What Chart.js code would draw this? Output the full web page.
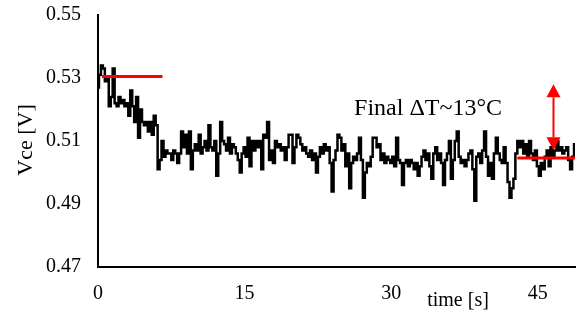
<!DOCTYPE html>
<html>
<head>
<meta charset="utf-8">
<script src="https://cdn.jsdelivr.net/npm/chart.js@4.4.1/dist/chart.umd.min.js"></script>
<style>
  html, body { margin: 0; padding: 0; background: #fff; }
  #wrap { width: 586px; height: 322px; }
</style>
</head>
<body>
<div id="wrap"><canvas id="myChart"></canvas></div>
<script>
// Vce trace, one reading every 0.2 s starting at t = 0
const sampleStep = 0.2;
const vce = [
  0.527, 0.531, 0.534, 0.533, 0.529,
  0.530, 0.521, 0.524, 0.533, 0.522,
  0.521, 0.524, 0.522, 0.523, 0.521,
  0.522, 0.518, 0.526, 0.521, 0.516,
  0.524, 0.511, 0.520, 0.516, 0.515,
  0.516, 0.513, 0.516, 0.512, 0.518,
  0.515, 0.501, 0.504, 0.510, 0.505,
  0.507, 0.506, 0.506, 0.504, 0.507,
  0.506, 0.503, 0.506, 0.513, 0.508,
  0.512, 0.506, 0.513, 0.501, 0.507,
  0.509, 0.507, 0.512, 0.506, 0.508,
  0.510, 0.507, 0.515, 0.508, 0.507,
  0.510, 0.499, 0.506, 0.516, 0.510,
  0.509, 0.507, 0.511, 0.506, 0.509,
  0.508, 0.506, 0.504, 0.500, 0.506,
  0.508, 0.505, 0.511, 0.502, 0.510,
  0.507, 0.510, 0.508, 0.510, 0.501,
  0.512, 0.511, 0.516, 0.504, 0.507,
  0.503, 0.510, 0.508, 0.509, 0.507,
  0.508, 0.504, 0.508, 0.512, 0.512,
  0.503, 0.508, 0.512, 0.511, 0.509,
  0.507, 0.508, 0.506, 0.505, 0.507,
  0.504, 0.506, 0.500, 0.505, 0.508,
  0.506, 0.509, 0.507, 0.508, 0.503,
  0.494, 0.504, 0.507, 0.512, 0.511,
  0.507, 0.509, 0.502, 0.506, 0.495,
  0.503, 0.505, 0.504, 0.506, 0.511,
  0.504, 0.492, 0.500, 0.503, 0.502,
  0.505, 0.511, 0.511, 0.508, 0.509,
  0.504, 0.506, 0.503, 0.505, 0.504,
  0.503, 0.505, 0.502, 0.511, 0.504,
  0.503, 0.496, 0.503, 0.504, 0.502,
  0.504, 0.503, 0.501, 0.503, 0.499,
  0.502, 0.505, 0.507, 0.504, 0.506,
  0.502, 0.498, 0.506, 0.508, 0.504,
  0.506, 0.503, 0.496, 0.504, 0.506,
  0.510, 0.498, 0.504, 0.510, 0.513,
  0.505, 0.503, 0.504, 0.502, 0.504,
  0.506, 0.507, 0.501, 0.491, 0.505,
  0.506, 0.503, 0.507, 0.513, 0.505,
  0.499, 0.503, 0.498, 0.506, 0.511,
  0.506, 0.504, 0.503, 0.508, 0.503,
  0.497, 0.492, 0.495, 0.498, 0.506,
  0.510, 0.508, 0.510, 0.506, 0.509,
  0.505, 0.510, 0.506, 0.504, 0.507,
  0.502, 0.499, 0.503, 0.501, 0.505,
  0.507, 0.502, 0.508, 0.505, 0.507,
  0.510, 0.507, 0.508, 0.506, 0.507,
  0.508, 0.504, 0.501, 0.505, 0.509
];

const xTicks = [0, 15, 30, 45];
const yTicks = [0.47, 0.49, 0.51, 0.53, 0.55];

// red reference levels: [from t, to t, level]
const startLevel = [0.4, 6.6, 0.5305];
const finalLevel = [42.9, 48.8, 0.5046];
// double arrow: [t, top, bottom]
const deltaArrow = [46.6, 0.528, 0.5071];
const noteText = "Final \u0394T~13\u00B0C";
const notePos = [26.2, 0.5183];

const points = vce.map((v, i) => ({ x: +(i * sampleStep).toFixed(1), y: v }));
const levelLine = (l) => [{ x: l[0], y: l[2] }, { x: l[1], y: l[2] }];

const font = "Liberation Serif, Times New Roman, serif";

const extras = {
  id: "extras",
  afterDatasetsDraw(chart) {
    const { ctx, scales } = chart;
    const x = scales.x, y = scales.y;
    ctx.save();
    // arrow
    const ax = x.getPixelForValue(deltaArrow[0]);
    const top = y.getPixelForValue(deltaArrow[1]);
    const bot = y.getPixelForValue(deltaArrow[2]);
    const head = 13, half = 7;
    ctx.strokeStyle = "#ff0000";
    ctx.fillStyle = "#ff0000";
    ctx.lineWidth = 2;
    ctx.beginPath();
    ctx.moveTo(ax, top + head);
    ctx.lineTo(ax, bot - head);
    ctx.stroke();
    ctx.beginPath();
    ctx.moveTo(ax, top);
    ctx.lineTo(ax - half, top + head);
    ctx.lineTo(ax + half, top + head);
    ctx.closePath();
    ctx.fill();
    ctx.beginPath();
    ctx.moveTo(ax, bot);
    ctx.lineTo(ax - half, bot - head);
    ctx.lineTo(ax + half, bot - head);
    ctx.closePath();
    ctx.fill();

    // note
    ctx.fillStyle = "#000";
    ctx.font = "24px " + font;
    ctx.textAlign = "left";
    ctx.textBaseline = "alphabetic";
    ctx.fillText(noteText, x.getPixelForValue(notePos[0]), y.getPixelForValue(notePos[1]));

    // axis titles
    ctx.font = "20px " + font;
    ctx.textAlign = "center";
    ctx.fillText("time [s]", 458, 306);
    ctx.translate(32, 140);
    ctx.rotate(-Math.PI / 2);
    ctx.font = "22px " + font;
    ctx.fillText("Vce [V]", 0, 0);
    ctx.restore();
  }
};

const ctx = document.getElementById("myChart");

const config = {
  type: "scatter",
  data: {
    datasets: [
      {
        data: levelLine(startLevel),
        showLine: true,
        borderColor: "#ff0000",
        borderWidth: 3,
        pointRadius: 0,
        order: 0
      },
      {
        data: levelLine(finalLevel),
        showLine: true,
        borderColor: "#ff0000",
        borderWidth: 3,
        pointRadius: 0,
        order: 0
      },
      {
        data: points,
        showLine: true,
        stepped: "middle",
        borderColor: "#000",
        borderWidth: 2.5,
        pointRadius: 0,
        order: 1
      }
    ]
  },
  options: {
    responsive: true,
    maintainAspectRatio: false,
    animation: false,
    layout: { padding: { top: 15, right: 11, left: 0, bottom: 0 } },
    plugins: { legend: { display: false }, tooltip: { enabled: false } },
    scales: {
      x: {
        type: "linear",
        min: 0,
        max: 48.8,
        afterBuildTicks: (s) => { s.ticks = xTicks.map(v => ({ value: v })); },
        afterFit: (s) => { s.height = 55; s.paddingLeft = 0; s.paddingRight = 0; },
        grid: { display: false, drawTicks: false },
        border: { color: "#000", width: 2 },
        ticks: { color: "#000", font: { family: font, size: 20 }, padding: 15, maxRotation: 0 }
      },
      y: {
        min: 0.47,
        max: 0.55,
        afterBuildTicks: (s) => { s.ticks = yTicks.map(v => ({ value: v })); },
        afterFit: (s) => { s.width = 98; s.paddingTop = 0; s.paddingBottom = 0; },
        grid: { display: false, drawTicks: false },
        border: { color: "#000", width: 2 },
        ticks: {
          color: "#000",
          font: { family: font, size: 20 },
          padding: 17,
          callback: (v) => v.toFixed(2)
        }
      }
    }
  },
  plugins: [extras]
};

const graph = new Chart(ctx, config);
</script>
</body>
</html>
